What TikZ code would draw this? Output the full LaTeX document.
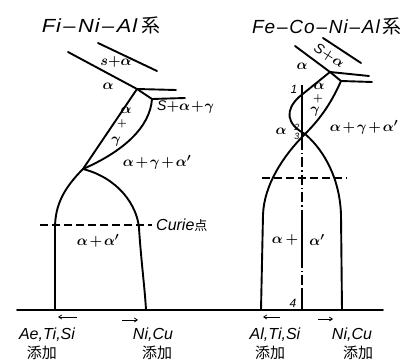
\documentclass[tikz,border=0pt]{standalone}
\usepackage{fontspec}
\setmainfont{Liberation Sans}
\newfontfamily\cjk{Noto Sans CJK JP}
\usetikzlibrary{arrows.meta}
\newcommand{\tdash}[1]{\hspace{#1}–\hspace{#1}}
\newcommand{\tightmu}{\medmuskip=2mu\relax}
\newcommand{\tightermu}{\medmuskip=1mu\relax}
\begin{document}
\begin{tikzpicture}[x=1pt,y=-1pt,
  ph/.style={line width=1.9pt, line cap=round, line join=round},
  thinln/.style={line width=1.1pt},
  dashln/.style={line width=1.1pt, dash pattern=on 8pt off 4pt},
  dotdash/.style={line width=1.1pt, dash pattern=on 10pt off 3pt on 1.5pt off 3pt},
  arr/.style={line width=0.8pt, -{Straight Barb[length=3pt,width=4pt]}},
  lbl/.style={inner sep=0pt, font=\fontsize{15}{15}\selectfont\boldmath\tightmu},
  sml/.style={inner sep=0pt, font=\fontsize{14}{14}\selectfont\boldmath\tightermu},
  pls/.style={inner sep=0pt, font=\fontsize{11}{11}\selectfont\boldmath},
  tiny/.style={inner sep=0pt, font=\fontsize{9}{9}\selectfont\itshape},
  lat/.style={inner sep=0pt, font=\fontsize{16}{16}\selectfont\itshape},
  cj/.style={inner sep=0pt, font=\fontsize{15}{15}\selectfont\cjk}]
\useasboundingbox (0,0) rectangle (410,363);
% ---------------- left diagram ----------------
\node[inner sep=0pt,font=\fontsize{19}{19}\selectfont\itshape\addfontfeature{FakeStretch=1.15,LetterSpace=5}] (tL) at (101,25) {Fi\tdash{2.5pt}Ni\tdash{2.5pt}Al\hspace{4pt}{\cjk 系}};
\coordinate (L1a) at (98,43);
\coordinate (L1b) at (157,71);
\coordinate (L2a) at (68,52);
\coordinate (LP) at (137,89);
\coordinate (LQ) at (152,99);
\coordinate (LR1) at (176,90);
\coordinate (LR2) at (185,98);
\coordinate (LT) at (83,169);
\coordinate (LB1) at (55,310);
\coordinate (LB2) at (146,310);
\draw[ph] (L1a) -- (L1b);
\draw[ph] (L2a) -- (LP) -- (LR1);
\draw[ph] (LP) -- (LQ) -- (LR2);
\draw[ph] (LP) -- (LT);
\draw[ph] (LQ) .. controls (150,128) and (122,152) .. (LT);
\draw[ph] (LT) .. controls (64,188) and (55,205) .. (55,228) -- (LB1);
\draw[ph] (LT) .. controls (118,178) and (137,205) .. (139,228) .. controls (141,260) and (145,290) .. (LB2);
\coordinate (C1) at (40,225);
\coordinate (C2) at (152,225);
\draw[dashln] (C1) -- (C2);
\node[sml] (l1) at (116,62) {$s{+}\alpha$};
\node[lbl] (l2) at (108,86) {$\alpha$};
\node[lbl] (l3) at (126,110) {$\alpha$};
\node[pls] (l4) at (122,124) {$+$};
\node[lbl] (l5) at (116,142) {$\gamma$};
\node[sml,anchor=west] (l6) at (157,107) {{\itshape S}$+\alpha+\gamma$};
\node[lbl] (l7) at (157,162) {$\alpha+\gamma+\alpha'$};
\node[lat,anchor=west] (l8) at (156,225) {Curie{\cjk\fontsize{13}{13}\selectfont 点}};
\node[lbl] (l9) at (98,241) {$\alpha+\alpha'$};
\coordinate (a1s) at (77,317);
\coordinate (a1e) at (58,317);
\coordinate (a2s) at (122,320);
\coordinate (a2e) at (138,320);
\draw[arr] (a1s) -- (a1e);
\draw[arr] (a2s) -- (a2e);
\node[lat] (b1) at (47,335) {Ae,Ti,Si};
\node[cj] (b2) at (42,353) {添加};
\node[lat] (b3) at (153,335) {Ni,Cu};
\node[cj] (b4) at (157,353) {添加};
% baseline
\coordinate (BL) at (17,310);
\coordinate (BR) at (383,310);
\draw[ph] (BL) -- (BR);
% ---------------- right diagram ----------------
\node[inner sep=0pt,font=\fontsize{19}{19}\selectfont\itshape\addfontfeature{LetterSpace=5}] (tR) at (327,26) {Fe\tdash{1.8pt}Co\tdash{1.8pt}Ni\tdash{1.8pt}Al\hspace{3pt}{\cjk 系}};
\coordinate (R1a) at (323,38);
\coordinate (R1b) at (361,63);
\coordinate (R2a) at (295,46);
\coordinate (RP) at (330,72);
\coordinate (RQ) at (341,81);
\coordinate (RR1) at (369,76);
\coordinate (RR2) at (372,82);
\coordinate (RX) at (305,134);
\coordinate (RK) at (299,97);
\coordinate (RB1) at (261,310);
\coordinate (RB2) at (342,310);
\draw[ph] (R1a) -- (R1b);
\draw[ph] (R2a) -- (RP) -- (RR1);
\draw[ph] (RP) -- (RQ) -- (RR2);
\draw[ph] (RQ) .. controls (330,106) and (318,121) .. (RX) .. controls (283,156) and (264,185) .. (263,215) -- (RB1);
\draw[ph] (RP) -- (RK) .. controls (285,110) and (286,124) .. (RX) .. controls (325,151) and (340,180) .. (341,215) -- (RB2);
\coordinate (V0) at (302,85);
\coordinate (V1) at (302,140);
\coordinate (V2) at (302,220);
\coordinate (V3) at (302,258);
\coordinate (V4) at (302,290);
\coordinate (V5) at (302,310);
\draw[thinln] (V0) -- (V1);
\draw[dotdash] (V1) -- (V2);
\draw[thinln] (V2) -- (V3);
\draw[dotdash] (V3) -- (V4);
\draw[thinln] (V4) -- (V5);
\coordinate (H1) at (262,178);
\coordinate (H2) at (347,178);
\draw[dashln] (H1) -- (H2);
\node[sml,rotate=-32] (r1) at (329,56) {{\itshape S}$+\alpha$};
\node[lbl] (r2) at (302,66) {$\alpha$};
\node[lbl] (r3) at (319,86) {$\alpha$};
\node[pls] (r4) at (318,99) {$+$};
\node[lbl] (r5) at (315,112) {$\gamma$};
\node[tiny,font=\fontsize{12}{12}\selectfont\itshape] (r6) at (294,89) {1};
\node[tiny] (r7) at (297,127) {2};
\node[tiny] (r8) at (297,136) {3};
\node[lbl] (r9) at (281,131) {$\alpha$};
\node[lbl] (r10) at (364,127) {$\alpha+\gamma+\alpha'$};
\node[lbl] (r11) at (285,240) {$\alpha\,+$};
\node[lbl] (r12) at (317,240) {$\alpha'$};
\node[tiny,font=\fontsize{12}{12}\selectfont\itshape] (r13) at (293,303) {4};
\coordinate (a3s) at (280,317);
\coordinate (a3e) at (263,317);
\coordinate (a4s) at (318,319);
\coordinate (a4e) at (333,319);
\draw[arr] (a3s) -- (a3e);
\draw[arr] (a4s) -- (a4e);
\node[lat] (b5) at (275,335) {Al,Ti,Si};
\node[cj] (b6) at (270,353) {添加};
\node[lat] (b7) at (352,335) {Ni,Cu};
\node[cj] (b8) at (358,353) {添加};
\end{tikzpicture}
\end{document}
